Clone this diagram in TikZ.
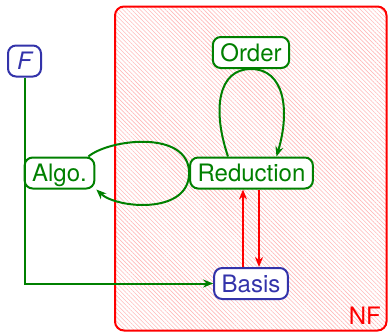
\documentclass[tikz,border=0pt]{standalone}
\usepackage{fontspec}
\setmainfont{TeX Gyre Heros}
\usetikzlibrary{arrows.meta,patterns.meta}

\definecolor{dgreen}{RGB}{0,128,0}
\definecolor{dblue}{RGB}{51,51,170}
\definecolor{hatch}{RGB}{255,185,185}

\begin{document}
\begin{tikzpicture}[x=1pt,y=-1pt,
  font=\fontsize{24}{27}\selectfont,
  box/.style={line width=2pt, rounded corners=8pt,
    inner xsep=7.5pt, inner ysep=0pt, minimum height=31pt,
    text height=17.2pt, text depth=0pt},
  gbox/.style={box, draw=dgreen, text=dgreen, fill=white},
  bbox/.style={box, draw=dblue, text=dblue, fill=white},
  garrow/.style={draw=dgreen, line width=2pt, -{Stealth[length=10pt,width=8pt,fill=dgreen]}},
  rarrow/.style={draw=red, line width=2pt, -{Stealth[length=10pt,width=8pt,fill=red]}}
]
\useasboundingbox (0,0) rectangle (388,332);

% the NF region: hatched frame
\draw[red, line width=2pt, rounded corners=9pt,
  pattern={Lines[angle=-45, distance=3pt, line width=0.6pt]}, pattern color=hatch]
  (115,6.5) rectangle (386.5,330.5);
\node[text=red, anchor=base east, inner sep=0pt] (nf) at (381,324) {NF};

% nodes
\node[bbox, minimum width=33pt, inner xsep=0pt] (F) at (24.5,61) {\itshape F};
\node[gbox] (order) at (251,52.5) {Order};
\node[gbox] (red) at (251.5,173) {Reduction};
\node[gbox] (algo) at (59.5,173) {Algo.};
\node[bbox] (basis) at (251,283.5) {Basis};

% input goes to the basis
\draw[garrow] (F.south) |- (basis.west);

% reduction loop through the order
\draw[garrow] ([xshift=-23.5pt]red.north)
  .. controls +(-16,-47) and +(-33,0) .. (order.south)
  .. controls +(33,0) and +(14,-47) .. ([xshift=25pt]red.north);

% algorithm loop through the reduction
\draw[garrow] ([xshift=-7pt]algo.north east)
  .. controls +(22,-18) and +(0,-43) .. (red.west)
  .. controls +(0,42) and +(20,19) .. ([xshift=1pt]algo.south east);

% exchange between basis and reduction
\draw[rarrow] ([xshift=-8pt]basis.north) -- ([xshift=-8pt]basis.north |- red.south);
\draw[rarrow] ([xshift=8pt]basis.north |- red.south) -- ([xshift=8pt]basis.north);
\end{tikzpicture}
\end{document}
